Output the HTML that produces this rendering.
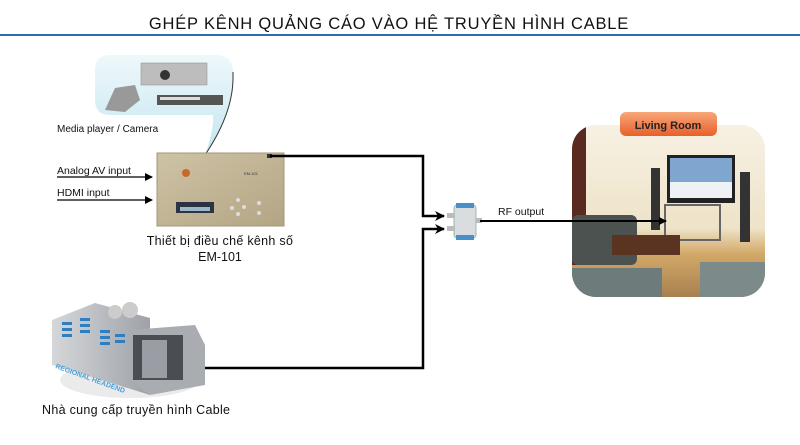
<!DOCTYPE html>
<html><head><meta charset="utf-8"><style>
html,body{margin:0;padding:0;background:#fff;width:800px;height:445px;overflow:hidden}
svg{display:block}
text{font-family:"Liberation Sans","Noto Sans CJK SC",sans-serif}
</style></head><body>
<svg width="800" height="445" viewBox="0 0 800 445" xmlns="http://www.w3.org/2000/svg">
<defs>
<linearGradient id="bub" x1="0" y1="0" x2="0" y2="1"><stop offset="0" stop-color="#eef8fb"/><stop offset="1" stop-color="#c4e6f0"/></linearGradient>
<linearGradient id="dev" x1="0" y1="0" x2="1" y2="1"><stop offset="0" stop-color="#cfc3a6"/><stop offset="1" stop-color="#b3a584"/></linearGradient>
<linearGradient id="room" x1="0" y1="0" x2="0" y2="1"><stop offset="0" stop-color="#f7f1e4"/><stop offset="0.6" stop-color="#eee3c8"/><stop offset="0.75" stop-color="#d3a868"/><stop offset="1" stop-color="#a8804f"/></linearGradient>
<linearGradient id="lbl" x1="0" y1="0" x2="0" y2="1"><stop offset="0" stop-color="#f7a77a"/><stop offset="1" stop-color="#e8602a"/></linearGradient>
<linearGradient id="bld" x1="0" y1="0" x2="1" y2="0"><stop offset="0" stop-color="#d5d7da"/><stop offset="1" stop-color="#9ea2a8"/></linearGradient>
<clipPath id="rc"><rect x="572" y="125" width="193" height="172" rx="24"/></clipPath>
<marker id="ar" markerWidth="8" markerHeight="8" refX="7" refY="4" orient="auto" markerUnits="userSpaceOnUse"><path d="M0,0 L8,4 L0,8 Z" fill="#000"/></marker>
<marker id="ar2" markerWidth="10" markerHeight="10" refX="9" refY="5" orient="auto" markerUnits="userSpaceOnUse"><path d="M0,0 L10,5 L0,10 L3,5 Z" fill="#000"/></marker>
</defs>

<text x="389" y="29" font-size="16.5" text-anchor="middle" fill="#111" letter-spacing="0.8">GHÉP KÊNH QUẢNG CÁO VÀO HỆ TRUYỀN HÌNH CABLE</text>
<rect x="0" y="34" width="800" height="2" fill="#2a6db3"/>

<path d="M110,55 L215,55 Q233,55 233,72 L233,80 Q232,115 205,155 Q214,130 213,115 L110,115 Q95,115 95,100 L95,70 Q95,55 110,55 Z" fill="url(#bub)"/>
<path d="M233,72 L233,80 Q232,115 205,155" fill="none" stroke="#333" stroke-width="1"/>
<rect x="141" y="63" width="66" height="22" fill="#bdbdbd" stroke="#888" stroke-width="0.5"/>
<circle cx="165" cy="75" r="5" fill="#333"/>
<rect x="157" y="95" width="66" height="10" fill="#555"/>
<rect x="160" y="97" width="40" height="3" fill="#ddd"/>
<path d="M105,110 L115,88 L135,85 L140,100 L125,112 Z" fill="#999"/>
<text x="57" y="132" font-size="10" fill="#111">Media player / Camera</text>

<text x="57" y="174" font-size="10.5" fill="#111">Analog AV input</text>
<text x="57" y="196" font-size="10.5" fill="#111">HDMI input</text>
<line x1="57" y1="177" x2="152" y2="177" stroke="#000" stroke-width="1.3" marker-end="url(#ar)"/>
<line x1="57" y1="200" x2="152" y2="200" stroke="#000" stroke-width="1.3" marker-end="url(#ar)"/>

<rect x="157" y="153" width="127" height="73" fill="url(#dev)" stroke="#a49675"/>
<rect x="176" y="202" width="38" height="11" fill="#2b3440"/>
<rect x="180" y="207" width="30" height="4" fill="#9fb8c8"/>
<circle cx="186" cy="173" r="4" fill="#c8682a"/>
<text x="244" y="175" font-size="4" fill="#333">EM-101</text>
<circle cx="232" cy="208" r="2" fill="#ddd"/><circle cx="238" cy="200" r="2" fill="#ddd"/><circle cx="244" cy="207" r="2" fill="#ddd"/><circle cx="238" cy="214" r="2" fill="#ddd"/>
<circle cx="259" cy="203" r="2" fill="#ddd"/><circle cx="259" cy="213" r="2" fill="#ddd"/>
<rect x="267" y="154" width="5" height="4" fill="#333"/>
<text x="220" y="245" font-size="12.5" text-anchor="middle" fill="#111" letter-spacing="0.3">Thiết bị điều chế kênh số</text>
<text x="220" y="261" font-size="12.5" text-anchor="middle" fill="#111">EM-101</text>

<polyline points="270,156 423,156 423,216 444,216" fill="none" stroke="#000" stroke-width="2.5" marker-end="url(#ar2)"/>
<polyline points="165,368 423,368 423,229 444,229" fill="none" stroke="#000" stroke-width="2.5" marker-end="url(#ar2)"/>

<rect x="454" y="205" width="22" height="33" rx="3" fill="#d9dde0" stroke="#8aa" stroke-width="0.8"/>
<rect x="456" y="203" width="18" height="5" fill="#4a90c8"/>
<rect x="456" y="235" width="18" height="5" fill="#4a90c8"/>
<rect x="447" y="213" width="8" height="5" fill="#bbb"/>
<rect x="447" y="226" width="8" height="5" fill="#bbb"/>
<rect x="476" y="218" width="6" height="5" fill="#bbb"/>
<text x="498" y="215" font-size="10.5" fill="#111">RF output</text>

<g clip-path="url(#rc)">
<rect x="572" y="125" width="193" height="172" fill="url(#room)"/>
<rect x="572" y="125" width="14" height="140" fill="#5a2a20"/>
<rect x="667" y="155" width="68" height="48" fill="#222"/>
<rect x="670" y="158" width="62" height="40" fill="#7fa6cf"/>
<rect x="670" y="182" width="62" height="16" fill="#eef2f5"/>
<rect x="651" y="168" width="9" height="62" fill="#333"/>
<rect x="740" y="172" width="10" height="70" fill="#333"/>
<rect x="665" y="205" width="55" height="35" fill="none" stroke="#666" stroke-width="2"/>
<rect x="572" y="215" width="65" height="50" rx="6" fill="#4b5250"/>
<rect x="612" y="235" width="68" height="20" fill="#5a3420"/>
<rect x="700" y="262" width="65" height="35" fill="#7d8a8a"/>
<rect x="572" y="268" width="90" height="30" fill="#6e7b7b"/>
</g>
<line x1="480" y1="221" x2="666" y2="221" stroke="#000" stroke-width="2" marker-end="url(#ar)"/>
<rect x="620" y="112" width="97" height="24" rx="6" fill="url(#lbl)"/>
<text x="668" y="129" font-size="11" font-weight="bold" text-anchor="middle" fill="#222">Living Room</text>

<ellipse cx="130" cy="380" rx="70" ry="18" fill="#ddd" opacity="0.6"/>
<path d="M52,320 L95,303 L150,318 L150,395 L95,378 L52,365 Z" fill="url(#bld)"/>
<path d="M130,330 L195,325 L205,345 L205,385 L150,395 L130,380 Z" fill="#a9adb2"/>
<rect x="133" y="335" width="50" height="45" fill="#4a4d52"/>
<rect x="142" y="340" width="25" height="38" fill="#9a9ea4"/>
<g fill="#2f7fc0">
<rect x="62" y="322" width="10" height="3"/><rect x="62" y="328" width="10" height="3"/><rect x="62" y="334" width="10" height="3"/>
<rect x="80" y="318" width="10" height="3"/><rect x="80" y="324" width="10" height="3"/><rect x="80" y="330" width="10" height="3"/>
<rect x="100" y="330" width="10" height="3"/><rect x="100" y="336" width="10" height="3"/><rect x="100" y="342" width="10" height="3"/>
<rect x="115" y="334" width="10" height="3"/><rect x="115" y="340" width="10" height="3"/>
</g>
<circle cx="115" cy="312" r="7" fill="#ccc"/><circle cx="130" cy="310" r="8" fill="#ccc"/>
<text x="55" y="368" font-size="7" fill="#4aa3d8" transform="rotate(20 55 368)" font-weight="bold">REGIONAL HEADEND</text>
<text x="42" y="414" font-size="12.5" fill="#111" letter-spacing="0.3">Nhà cung cấp truyền hình Cable</text>
</svg>
</body></html>
